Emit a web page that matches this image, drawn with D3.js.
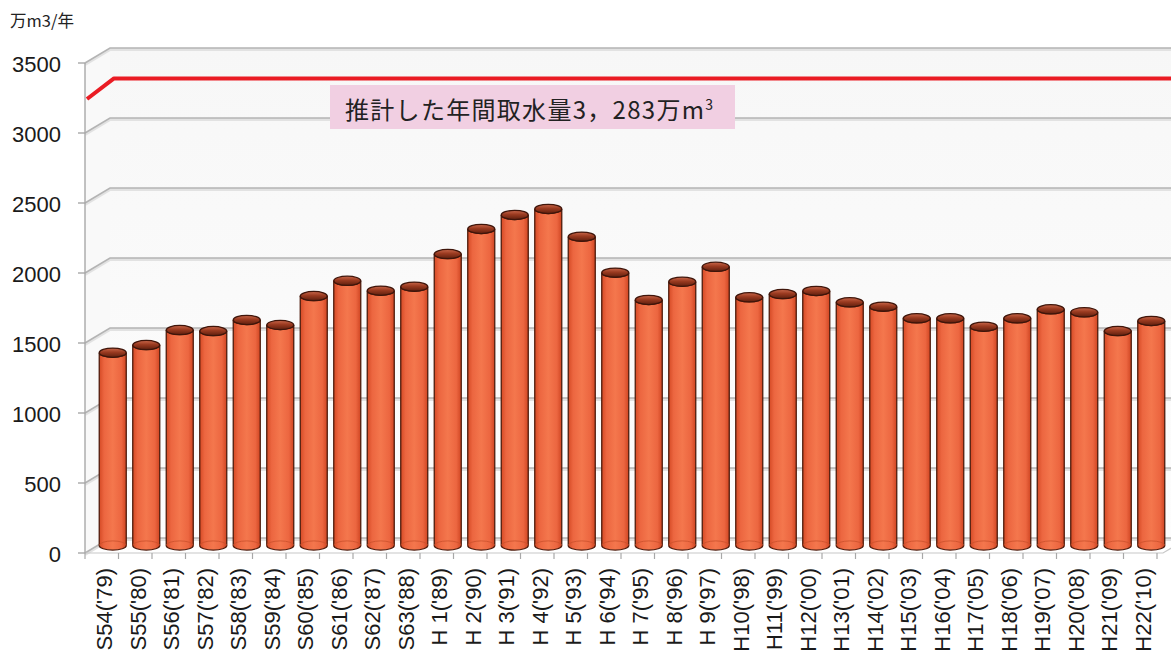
<!DOCTYPE html>
<html lang="ja">
<head>
<meta charset="utf-8">
<script src="https://cdn.jsdelivr.net/npm/d3@7"></script>
<style>
  html, body { margin: 0; padding: 0; background: #ffffff; }
  svg { display: block; }
</style>
</head>
<body>
<svg id="chart" width="1171" height="659"></svg>
<script>
// Annual water intake, 万m3/年, fiscal years S54 ('79) – H22 ('10)
const categories = [
  "S54('79)", "S55('80)", "S56('81)", "S57('82)", "S58('83)", "S59('84)",
  "S60('85)", "S61('86)", "S62('87)", "S63('88)", "H 1('89)", "H 2('90)",
  "H 3('91)", "H 4('92)", "H 5('93)", "H 6('94)", "H 7('95)", "H 8('96)",
  "H 9('97)", "H10('98)", "H11('99)", "H12('00)", "H13('01)", "H14('02)",
  "H15('03)", "H16('04)", "H17('05)", "H18('06)", "H19('07)", "H20('08)",
  "H21('09)", "H22('10)"
];
const intake = [
  1377, 1432, 1539, 1532, 1611, 1575, 1782, 1891, 1820, 1849,
  2082, 2261, 2361, 2404, 2206, 1949, 1754, 1884, 1991, 1773,
  1796, 1818, 1737, 1706, 1623, 1623, 1563, 1623, 1687, 1666,
  1532, 1604
];
// Estimated annual intake line (left front corner, back wall left, back wall right)
const estimateLine = [3243, 3283, 3283];
const estimateText = "推計した年間取水量3，283万m";
const estimateSup = "3";
const yTicks = [0, 500, 1000, 1500, 2000, 2500, 3000, 3500];
const unitLabel = "万m3/年";

const svg = d3.select("#chart");
const W = 1171;

// Front plane geometry, plus the depth offset of the 3-D box
const x = d3.scaleBand().domain(categories).range([85, 85 + 32 * 33.5]).padding(0);
const y = d3.scaleLinear().domain([0, 3500]).range([553, 63]);
const depthX = 25, depthY = -15;
const yBack = v => y(v) + depthY;
const barShiftX = 11, barShiftY = depthY / 2;
const barW = 27, capRy = 4.6;

const defs = svg.append("defs");
const bodyGrad = defs.append("linearGradient").attr("id", "bodyGrad")
  .attr("x1", "0").attr("x2", "1").attr("y1", "0").attr("y2", "0");
[[0, "#d54a25"], [0.18, "#ec6640"], [0.5, "#f4774d"], [0.82, "#ec6640"], [1, "#cf4522"]]
  .forEach(([o, c]) => bodyGrad.append("stop").attr("offset", o).attr("stop-color", c));
const capGrad = defs.append("linearGradient").attr("id", "capGrad")
  .attr("x1", "0").attr("x2", "0").attr("y1", "0").attr("y2", "1");
[[0, "#c9674a"], [0.45, "#9a3a20"], [1, "#5e1f0e"]]
  .forEach(([o, c]) => capGrad.append("stop").attr("offset", o).attr("stop-color", c));
const wallGrad = defs.append("linearGradient").attr("id", "wallGrad")
  .attr("x1", "0").attr("x2", "0").attr("y1", "0").attr("y2", "1");
[[0, "#f7f7f7"], [1, "#fdfdfd"]]
  .forEach(([o, c]) => wallGrad.append("stop").attr("offset", o).attr("stop-color", c));

const x0 = x.range()[0], x1 = x.range()[1];

// Back wall and left side wall
svg.append("rect")
  .attr("x", x0 + depthX).attr("y", yBack(3500))
  .attr("width", W - (x0 + depthX)).attr("height", yBack(0) - yBack(3500))
  .attr("fill", "url(#wallGrad)");
svg.append("path")
  .attr("d", `M${x0},${y(3500)} L${x0 + depthX},${yBack(3500)} L${x0 + depthX},${yBack(0)} L${x0},${y(0)} Z`)
  .attr("fill", "#f9f9f9");

// Gridlines: diagonal on the side wall, then across the back wall
const grid = svg.append("g");
yTicks.forEach(v => {
  const d = `M${x0},${y(v)} L${x0 + depthX},${yBack(v)} L${W},${yBack(v)}`;
  grid.append("path").attr("d", d).attr("fill", "none")
    .attr("stroke", "#e2e2e2").attr("stroke-width", 3).attr("transform", "translate(0,1.5)");
  grid.append("path").attr("d", d).attr("fill", "none")
    .attr("stroke", "#b4b4b4").attr("stroke-width", 1.6);
});

// Floor front edge
svg.append("path")
  .attr("d", `M${x0},${y(0)} L${x1 + 6},${y(0)} L${x1 + 6 + depthX * 0.4},${y(0) + depthY * 0.4}`)
  .attr("fill", "none").attr("stroke", "#c8c8c8").attr("stroke-width", 1.2);

// Estimated intake line
const linePts = [
  [x0 + 2, y(estimateLine[0])],
  [x0 + depthX + 4, yBack(estimateLine[1])],
  [W, yBack(estimateLine[2])]
];
svg.append("path")
  .attr("d", d3.line()(linePts))
  .attr("fill", "none").attr("stroke", "#ea1c24").attr("stroke-width", 4)
  .attr("stroke-linejoin", "round");

// Cylindrical bars
const bars = svg.append("g");
categories.forEach((c, i) => {
  const v = intake[i];
  const cx = x(c) + x.bandwidth() / 2 + barShiftX;
  const yt = y(v) + barShiftY;
  const yb = y(0) + barShiftY;
  const rx = barW / 2;
  const body = `M${cx - rx},${yt} L${cx - rx},${yb} A${rx},${capRy} 0 0 0 ${cx + rx},${yb} L${cx + rx},${yt} A${rx},${capRy} 0 0 1 ${cx - rx},${yt} Z`;
  bars.append("path").attr("d", body)
    .attr("fill", "url(#bodyGrad)")
    .attr("stroke", "#4f1c0d").attr("stroke-width", 1.3);
  // faint base rim
  bars.append("path")
    .attr("d", `M${cx - rx},${yb} A${rx},${capRy} 0 0 1 ${cx + rx},${yb}`)
    .attr("fill", "none").attr("stroke", "#c9502c").attr("stroke-width", 0.8);
  bars.append("ellipse")
    .attr("cx", cx).attr("cy", yt).attr("rx", rx).attr("ry", capRy)
    .attr("fill", "url(#capGrad)")
    .attr("stroke", "#3f150a").attr("stroke-width", 1.3);
});

// Y axis
const yAxis = svg.append("g");
yAxis.append("line")
  .attr("x1", x0).attr("x2", x0).attr("y1", y(3500)).attr("y2", y(0))
  .attr("stroke", "#a8a8a8").attr("stroke-width", 1.4);
yTicks.forEach(v => {
  yAxis.append("line")
    .attr("x1", x0 - 7).attr("x2", x0).attr("y1", y(v)).attr("y2", y(v))
    .attr("stroke", "#a8a8a8").attr("stroke-width", 1.4);
  yAxis.append("text")
    .attr("x", 61).attr("y", y(v) + 9)
    .attr("text-anchor", "end")
    .attr("font-family", "'Liberation Sans', Arial, sans-serif")
    .attr("font-size", 22).attr("fill", "#1a1a1a")
    .text(v);
});

// X axis ticks at category boundaries and rotated labels
const xAxis = svg.append("g");
categories.forEach((c, i) => {
  xAxis.append("line")
    .attr("x1", x(c) + x.bandwidth()).attr("x2", x(c) + x.bandwidth())
    .attr("y1", y(0)).attr("y2", y(0) + 6)
    .attr("stroke", "#a8a8a8").attr("stroke-width", 1.2);
  xAxis.append("text")
    .attr("transform", `translate(${x(c) + x.bandwidth() / 2 + 3},568) rotate(-90)`)
    .attr("dy", "0.35em")
    .attr("text-anchor", "end")
    .attr("font-family", "'Liberation Sans', Arial, sans-serif")
    .attr("font-size", 22).attr("fill", "#1a1a1a")
    .text(c);
});
xAxis.append("line")
  .attr("x1", x0).attr("x2", x0).attr("y1", y(0)).attr("y2", y(0) + 6)
  .attr("stroke", "#a8a8a8").attr("stroke-width", 1.2);

// Unit label
svg.append("text")
  .attr("x", 10).attr("y", 27)
  .attr("font-family", "'Noto Sans CJK JP', sans-serif")
  .attr("font-size", 16.5).attr("fill", "#222")
  .text(unitLabel);

// Annotation box for the estimated intake
svg.append("rect")
  .attr("x", 330).attr("y", 85).attr("width", 405).attr("height", 44)
  .attr("fill", "#f1cfe2");
const note = svg.append("text")
  .attr("x", 345).attr("y", 119)
  .attr("font-family", "'Noto Sans CJK JP', sans-serif")
  .attr("font-size", 24).attr("fill", "#222")
  .attr("letter-spacing", 1.3);
note.append("tspan").text(estimateText);
note.append("tspan").attr("dy", -9).attr("font-size", 14).text(estimateSup);
</script>
</body>
</html>
